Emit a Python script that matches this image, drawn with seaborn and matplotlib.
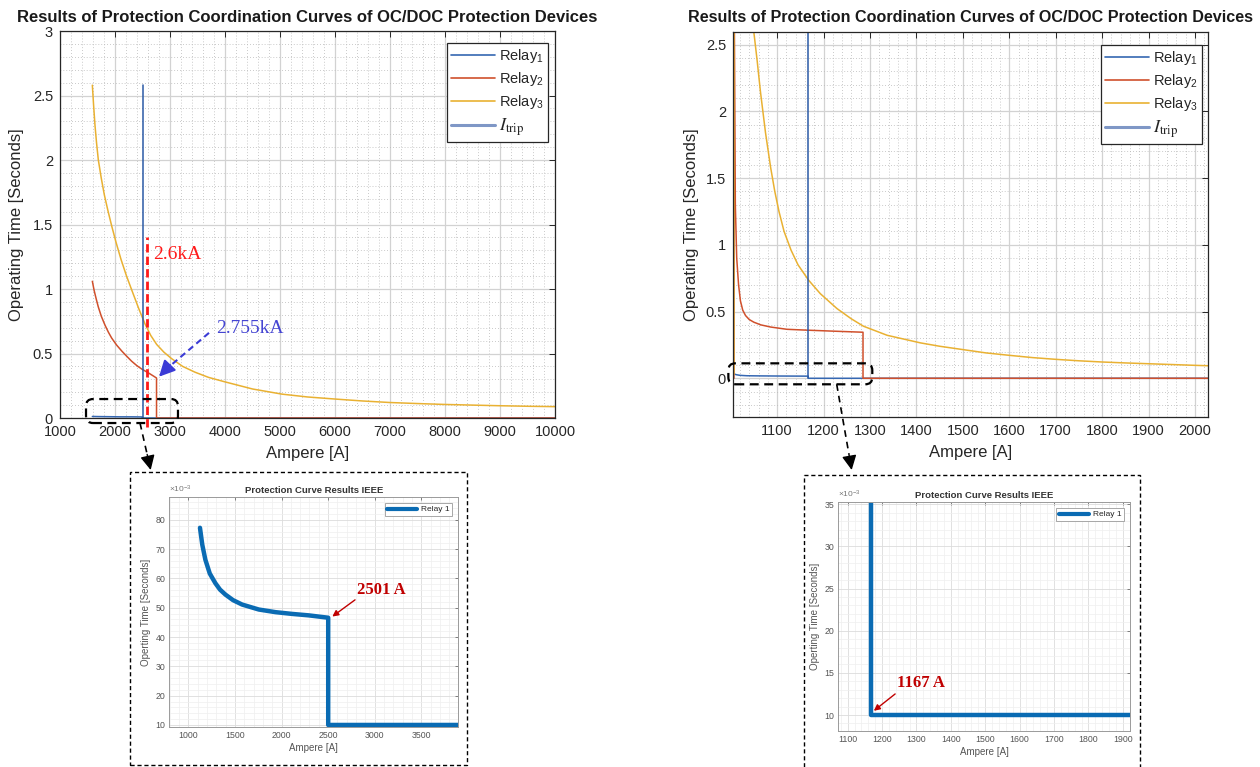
import numpy as np
import pandas as pd
import matplotlib
matplotlib.use('Agg')
import matplotlib.pyplot as plt
import seaborn as sns
from matplotlib.ticker import MultipleLocator, AutoMinorLocator, FuncFormatter
from matplotlib.lines import Line2D
from matplotlib.patches import FancyBboxPatch, Rectangle, FancyArrowPatch
from matplotlib.transforms import IdentityTransform

sns.set_style('white')
plt.rcParams['font.family'] = ['Liberation Sans', 'DejaVu Sans']
plt.rcParams['mathtext.fontset'] = 'custom'
plt.rcParams['mathtext.rm'] = 'Liberation Sans'
plt.rcParams['mathtext.it'] = 'Liberation Sans:italic'
plt.rcParams['mathtext.bf'] = 'Liberation Sans:bold'

# ---------------- data ----------------
# Left main chart
L_relay1_x = [1588, 1700, 1900, 2100, 2300, 2501, 2501, 10000]
L_relay1_y = [0.012, 0.011, 0.010, 0.009, 0.009, 0.008, 0.0, 0.0]
L_relay2_x = [1588, 1620, 1660, 1697, 1750, 1818, 1880, 1939, 2030, 2121, 2210, 2303,
              2400, 2485, 2606, 2700, 2755, 2755, 10000]
L_relay2_y = [1.06, 0.99, 0.92, 0.86, 0.79, 0.72, 0.665, 0.62, 0.565, 0.52, 0.48, 0.44,
              0.405, 0.38, 0.35, 0.325, 0.31, 0.0, 0.0]
L_relay3_x = [1588, 1610, 1636, 1665, 1697, 1750, 1806, 1870, 1939, 2020, 2109, 2210,
              2315, 2430, 2545, 2650, 2758, 2890, 3030, 3230, 3455, 3700, 4000, 4500,
              5036, 5500, 6000, 6500, 7000, 7500, 8000, 8500, 9000, 9500, 10000]
L_relay3_y = [2.58, 2.43, 2.27, 2.13, 2.00, 1.86, 1.73, 1.61, 1.49, 1.36, 1.23, 1.10,
              0.98, 0.85, 0.73, 0.64, 0.57, 0.51, 0.46, 0.40, 0.355, 0.315, 0.28, 0.225,
              0.185, 0.163, 0.147, 0.132, 0.12, 0.112, 0.105, 0.10, 0.095, 0.091, 0.088]
L_itrip_x = [2501, 2501]
L_itrip_y = [0.0, 2.58]
L_mark_x = [2590, 2590]
L_mark_y = [-0.07, 1.40]

# Right main chart
R_relay1_x = [1005, 1012, 1020, 1035, 1060, 1100, 1167, 1167, 2028]
R_relay1_y = [0.035, 0.027, 0.022, 0.019, 0.018, 0.017, 0.016, 0.0, 0.0]
R_relay2_x = [1007, 1007, 1008, 1010, 1013, 1017, 1021, 1026, 1032, 1040, 1050, 1065,
              1086, 1121, 1168, 1229, 1285, 1285, 2028]
R_relay2_y = [0.0, 40.0, 2.6, 1.3, 0.9, 0.7, 0.58, 0.51, 0.47, 0.44, 0.42, 0.40,
              0.384, 0.367, 0.36, 0.352, 0.345, 0.0, 0.0]
R_relay3_x = [1007, 1007, 1050, 1057, 1064, 1075, 1086, 1095, 1104, 1115, 1130, 1145,
              1168, 1193, 1229, 1260, 1286, 1337, 1409, 1450, 1500, 1550, 1600, 1650,
              1700, 1750, 1800, 1850, 1900, 1950, 2000, 2028]
R_relay3_y = [0.03, 40.0, 2.59, 2.38, 2.15, 1.84, 1.58, 1.40, 1.25, 1.10, 0.96, 0.85,
              0.734, 0.634, 0.522, 0.445, 0.39, 0.322, 0.265, 0.24, 0.215, 0.19, 0.172,
              0.155, 0.142, 0.131, 0.122, 0.115, 0.109, 0.103, 0.097, 0.094]
R_itrip_x = [1167, 1167]
R_itrip_y = [0.0, 2.7]

# Insets (seconds)
IL_x = [1125, 1150, 1183, 1230, 1290, 1340, 1398, 1480, 1577, 1756, 1935, 2114, 2293,
        2501, 2501, 3905]
IL_y = [0.0773, 0.0715, 0.0664, 0.0617, 0.0584, 0.0562, 0.0545, 0.0526, 0.0511,
        0.0494, 0.0485, 0.0479, 0.0474, 0.0466, 0.010, 0.010]
IR_x = [1167, 1167, 1921]
IR_y = [0.040, 0.010, 0.010]

legend_labels = ['Relay$_1$', 'Relay$_2$', 'Relay$_3$', r'$I_{\mathrm{trip}}$']
title_main = 'Results of Protection Coordination Curves of OC/DOC Protection Devices'
title_inset = 'Protection Curve Results IEEE'

# ---------------- styles ----------------
C1 = '#3567b2'
C2 = '#d0502c'
C3 = '#e9b132'
CT = '#2b5aa6'
CTL = '#7f97c6'

W, H = 1260, 767
fig = plt.figure(figsize=(W / 100, H / 100), dpi=100)


def ax_px(l, t, r, b):
    return fig.add_axes([l / W, 1 - b / H, (r - l) / W, (b - t) / H])


fmt = FuncFormatter(lambda v, p: f'{v:g}')


def sline(ax, x, y, **kw):
    sns.lineplot(x=x, y=y, ax=ax, estimator=None, sort=False, errorbar=None,
                 legend=False, **kw)


def style_main(ax):
    ax.set_facecolor('white')
    for s in ax.spines.values():
        s.set_color('#262626')
        s.set_linewidth(0.9)
        s.set_visible(True)
    ax.tick_params(which='major', direction='in', length=4, width=0.7, top=True,
                   right=True, labelsize=10.5, colors='#262626', pad=5)
    ax.tick_params(which='minor', length=0, top=True, right=True)
    ax.xaxis.set_minor_locator(AutoMinorLocator(5))
    ax.yaxis.set_minor_locator(AutoMinorLocator(5))
    ax.grid(which='major', color='#d2d2d2', lw=0.9, ls='-')
    ax.grid(which='minor', color='#b8b8b8', lw=0.6, ls=(0, (1, 2.5)))
    ax.set_axisbelow(True)
    ax.xaxis.set_major_formatter(fmt)
    ax.yaxis.set_major_formatter(fmt)


def add_legend(ax, anchor):
    hs = [Line2D([], [], color=C1, lw=1.2), Line2D([], [], color=C2, lw=1.2),
          Line2D([], [], color=C3, lw=1.2), Line2D([], [], color=CTL, lw=2.2)]
    leg = ax.legend(hs, legend_labels, loc='upper right', bbox_to_anchor=anchor,
                    borderaxespad=0, fontsize=10.5, frameon=True, fancybox=False,
                    framealpha=1, edgecolor='#262626', handlelength=3.0,
                    handletextpad=0.3, labelspacing=0.34, borderpad=0.28)
    leg.get_frame().set_linewidth(0.9)
    t = leg.get_texts()[3]
    t.set_math_fontfamily('stix')
    t.set_fontsize(13)
    return leg


# ---------------- left main ----------------
axL = ax_px(60, 31, 555, 418)
style_main(axL)
axL.set_xlim(1000, 10000)
axL.set_ylim(0, 3)
axL.xaxis.set_major_locator(MultipleLocator(1000))
axL.yaxis.set_major_locator(MultipleLocator(0.5))
sline(axL, L_relay1_x, L_relay1_y, color=C1, lw=1.1)
sline(axL, L_relay2_x, L_relay2_y, color=C2, lw=1.1)
sline(axL, L_relay3_x, L_relay3_y, color=C3, lw=1.1)
sline(axL, L_itrip_x, L_itrip_y, color=CT, lw=1.1)
axL.plot(L_mark_x, L_mark_y, color='#ff1a1a', lw=2, ls=(0, (3, 1.5)), clip_on=False,
         zorder=5)
axL.text(2697, 1.27, '2.6kA', color='#ff1a1a', fontsize=14, va='center', ha='left',
         family='Liberation Serif')
axL.text(3836, 0.69, '2.755kA', color='#4545d2', fontsize=14, va='center', ha='left',
         family='Liberation Serif')
axL.plot([3709, 2950], [0.66, 0.385], color='#3b3bd6', lw=1.5, ls=(0, (3, 2)), zorder=6)
axL.annotate('', xy=(2800, 0.32), xytext=(3000, 0.41),
             arrowprops=dict(arrowstyle='-|>', color='#3b3bd6', lw=1.5,
                             mutation_scale=24, shrinkA=0, shrinkB=0), zorder=6)
axL.set_xlabel('Ampere [A]', fontsize=12, color='#262626')
axL.set_ylabel('Operating Time [Seconds]', fontsize=12, color='#262626')
axL.xaxis.set_label_coords(0.5, -0.072)
axL.yaxis.set_label_coords(-0.072, 0.5)
axL.text(0.5, 1 + (31 - 17) / 387, title_main, transform=axL.transAxes, ha='center',
         va='center', fontsize=12, fontweight='bold', color='#1a1a1a')
add_legend(axL, (0.986, 0.969))

# ---------------- right main ----------------
axR = ax_px(733, 32, 1208, 417)
style_main(axR)
axR.set_xlim(1005, 2028)
axR.set_ylim(-0.29, 2.594)
axR.xaxis.set_major_locator(MultipleLocator(100))
axR.yaxis.set_major_locator(MultipleLocator(0.5))
sline(axR, R_relay1_x, R_relay1_y, color=C1, lw=1.1)
sline(axR, R_relay2_x, R_relay2_y, color=C2, lw=1.1)
sline(axR, R_relay3_x, R_relay3_y, color=C3, lw=1.1)
sline(axR, R_itrip_x, R_itrip_y, color=CT, lw=1.1)
axR.set_xlabel('Ampere [A]', fontsize=12, color='#262626')
axR.set_ylabel('Operating Time [Seconds]', fontsize=12, color='#262626')
axR.xaxis.set_label_coords(0.5, -0.072)
axR.yaxis.set_label_coords(-0.072, 0.5)
axR.text(0.5, 1 + (32 - 17) / 385, title_main, transform=axR.transAxes, ha='center',
         va='center', fontsize=11.6, fontweight='bold', color='#1a1a1a')
add_legend(axR, (0.987, 0.966))


# ---------------- insets ----------------
def style_inset(ax):
    ax.set_facecolor('white')
    for s in ax.spines.values():
        s.set_color('#9a9a9a')
        s.set_linewidth(0.7)
        s.set_visible(True)
    ax.tick_params(which='major', direction='in', length=2.5, width=0.5, top=True,
                   right=True, labelsize=6.3, colors='#555555', pad=3)
    ax.tick_params(which='minor', length=0)
    ax.xaxis.set_minor_locator(AutoMinorLocator(5))
    ax.yaxis.set_minor_locator(AutoMinorLocator(5))
    ax.grid(which='major', color='#dcdcdc', lw=0.6)
    ax.grid(which='minor', color='#efefef', lw=0.5)
    ax.set_axisbelow(True)
    ax.xaxis.set_major_formatter(fmt)
    ax.yaxis.set_major_formatter(FuncFormatter(lambda v, p: f'{v * 1000:g}'))
    ax.set_xlabel('Ampere [A]', fontsize=7, color='#555555', labelpad=2)
    ax.set_ylabel('Operting Time [Seconds]', fontsize=7, color='#555555', labelpad=3)
    ax.set_title(title_inset, fontsize=6.8, fontweight='bold', color='#333333', pad=3)
    ax.text(0.0, 1.012, r'$\times 10^{-3}$', transform=ax.transAxes, fontsize=6,
            color='#777777', ha='left', va='bottom')
    leg = ax.legend([Line2D([], [], color='#0a6bb3', lw=3)], ['Relay 1'],
                    loc='upper right', fontsize=6, frameon=True, fancybox=False,
                    framealpha=1, edgecolor='#9a9a9a', handlelength=3.6,
                    borderaxespad=0.7, handletextpad=0.5, borderpad=0.3)
    leg.get_frame().set_linewidth(0.6)


iL = ax_px(169.3, 497.3, 458.3, 727.3)
iL.set_xlim(796, 3897)
iL.set_ylim(0.0092, 0.0877)
iL.xaxis.set_major_locator(MultipleLocator(500))
iL.yaxis.set_major_locator(MultipleLocator(0.010))
sline(iL, IL_x, IL_y, color='#0a6bb3', lw=3.2)
style_inset(iL)
iL.text(2807, 0.0561, '2501 A', color='#c00000', fontsize=12, fontweight='bold',
        family='Liberation Serif', ha='left', va='center')
iL.annotate('', xy=(2545, 0.0470), xytext=(2789, 0.0527),
            arrowprops=dict(arrowstyle='-|>', color='#c00000', lw=1.0,
                            mutation_scale=9, shrinkA=0, shrinkB=0))

iR = ax_px(838.3, 502.3, 1130, 730.7)
iR.set_xlim(1072.7, 1921)
iR.set_ylim(0.00814, 0.03524)
iR.xaxis.set_major_locator(MultipleLocator(100))
iR.yaxis.set_major_locator(MultipleLocator(0.005))
sline(iR, IR_x, IR_y, color='#0a6bb3', lw=3.2)
style_inset(iR)
iR.text(1242, 0.01376, '1167 A', color='#c00000', fontsize=12, fontweight='bold',
        family='Liberation Serif', ha='left', va='center')
iR.annotate('', xy=(1176, 0.0105), xytext=(1238, 0.0125),
            arrowprops=dict(arrowstyle='-|>', color='#c00000', lw=1.0,
                            mutation_scale=9, shrinkA=0, shrinkB=0))

# ---------------- zoom boxes, frames and connecting arrows ----------------
ID = IdentityTransform()


def zoom_box(ax, xr, yr):
    (x0, y0) = ax.transData.transform((xr[0], yr[0]))
    (x1, y1) = ax.transData.transform((xr[1], yr[1]))
    p = FancyBboxPatch((x0, y0), x1 - x0, y1 - y0,
                       boxstyle='round,pad=0,rounding_size=7', transform=ID,
                       fill=False, ec='black', lw=1.6, ls=(0, (4, 2.5)), zorder=10)
    fig.add_artist(p)


zoom_box(axL, (1473, 3145), (-0.039, 0.147))
zoom_box(axR, (995, 1305), (-0.045, 0.112))

for (l, t, r, b) in [(130, 472, 467, 765), (804, 475, 1140, 775)]:
    fig.add_artist(Rectangle((l, H - b), r - l, b - t, transform=ID, fill=False,
                             ec='black', lw=1.0, ls=(0, (3, 2)), zorder=10))

for (sx, sy, tx, ty) in [(140, 423, 150.7, 470), (836.7, 384.3, 851.7, 470)]:
    bx = tx - (tx - sx) * 16 / np.hypot(tx - sx, ty - sy)
    by = ty - (ty - sy) * 16 / np.hypot(tx - sx, ty - sy)
    fig.add_artist(Line2D([sx, bx], [H - sy, H - by], transform=ID, color='black',
                          lw=1.2, ls=(0, (4, 3)), zorder=10))
    fig.add_artist(FancyArrowPatch((bx, H - by), (tx, H - ty), transform=ID,
                                   arrowstyle='-|>', mutation_scale=22, color='black',
                                   lw=1.0, shrinkA=0, shrinkB=0, zorder=10))

fig.savefig('out.png', dpi=100)
